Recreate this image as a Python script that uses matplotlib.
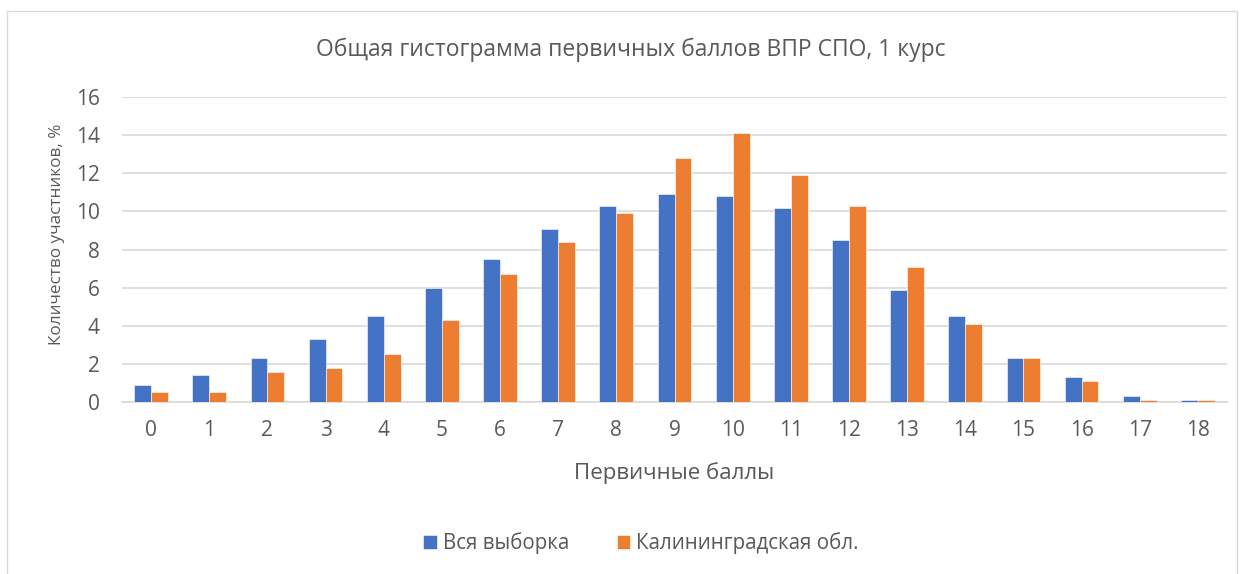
import numpy as np
import matplotlib
matplotlib.use("Agg")
import matplotlib.pyplot as plt
from matplotlib.patches import Rectangle

# primary scores and share of participants, %
scores = list(range(19))
all_sample = [0.9, 1.4, 2.3, 3.3, 4.5, 6.0, 7.5, 9.1, 10.3, 10.9, 10.8, 10.2, 8.5, 5.9, 4.5, 2.3, 1.3, 0.3, 0.1]
kaliningrad = [0.5, 0.5, 1.6, 1.8, 2.5, 4.3, 6.7, 8.4, 9.9, 12.8, 14.1, 11.9, 10.3, 7.1, 4.1, 2.3, 1.1, 0.1, 0.1]
series_names = ["Вся выборка", "Калининградская обл."]
y_ticks = [0, 2, 4, 6, 8, 10, 12, 14, 16]

BLUE = "#4472C4"
ORANGE = "#ED7D31"
TEXT = "#595959"
GRID = "#D9D9D9"

plt.rcParams['font.family'] = ['Open Sans', 'DejaVu Sans']

fig = plt.figure(figsize=(12.45, 5.74), dpi=100)
fig.patches.append(Rectangle((7 / 1245, -0.05), (1237 - 7) / 1245, 1 - 11 / 574 + 0.05,
                             transform=fig.transFigure, fill=False, edgecolor=GRID, lw=1))

ax = fig.add_axes([122 / 1245, 1 - 402 / 574, (1227 - 122) / 1245, (402 - 97) / 574])

x = np.arange(len(scores))
w = 0.29
ax.bar(x - w / 2, all_sample, w, color=BLUE, edgecolor="white", linewidth=0.4, label=series_names[0], zorder=3)
ax.bar(x + w / 2, kaliningrad, w, color=ORANGE, edgecolor="white", linewidth=0.4, label=series_names[1], zorder=3)

ax.set_xlim(-0.5, len(scores) - 0.5)
ax.set_ylim(0, 16)
ax.set_yticks(y_ticks)
ax.set_xticks(x)
ax.set_xticklabels([str(s) for s in scores])
ax.yaxis.grid(True, color=GRID, lw=1.2, zorder=0)
ax.set_axisbelow(True)
for side in ["top", "right", "left"]:
    ax.spines[side].set_visible(False)
ax.spines["bottom"].set_color(GRID)
ax.spines["bottom"].set_linewidth(1.2)
ax.tick_params(axis="both", length=0, colors=TEXT, labelsize=15)
ax.tick_params(axis="x", pad=13)
ax.tick_params(axis="y", pad=16)

ax.set_xlabel("Первичные баллы", fontsize=16, color=TEXT, labelpad=15)
ax.set_ylabel("Количество участников, %", fontsize=12.3, color=TEXT)
ax.yaxis.set_label_coords((65 - 122) / 1105, (402 - 234) / 305)

fig.text(631 / 1245, 1 - 50 / 574, "Общая гистограмма первичных баллов ВПР СПО, 1 курс",
         ha="center", va="center", fontsize=16.5, color=TEXT)

leg = fig.legend(loc="center", bbox_to_anchor=(641 / 1245, 1 - 543 / 574), ncol=2, frameon=False,
                 fontsize=14.8, handlelength=0.65, handleheight=0.65, handletextpad=0.3, columnspacing=2.3)
for t in leg.get_texts():
    t.set_color(TEXT)

fig.savefig("out.png", dpi=100)
